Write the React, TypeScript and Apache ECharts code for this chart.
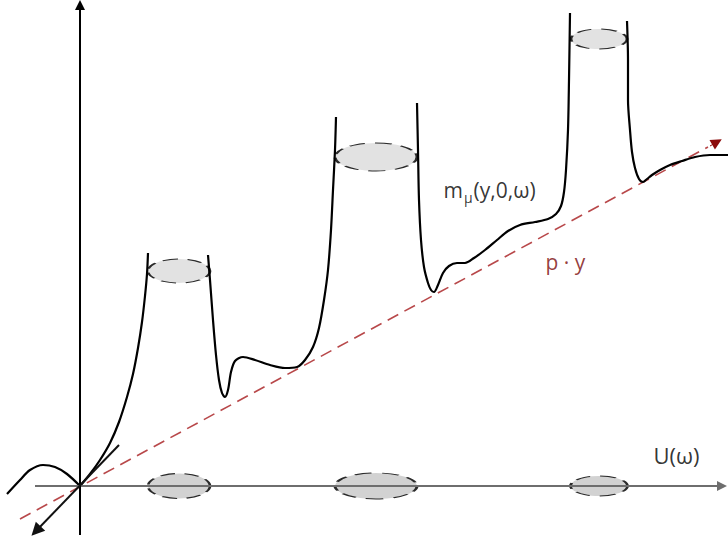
import React, { useEffect, useRef } from "react";
import * as echarts from "echarts";

// ---- data (data units: 1 unit ≈ 1 px, origin at the axes' crossing) ----
const X_MIN = -80;
const X_MAX = 648;
const Y_MIN = -58;
const Y_MAX = 486;

// black curve m_mu(y,0,omega), broken at the top of each wall
const curveHump = [[-73, -8], [-60, 6], [-50, 16], [-37, 21], [-25, 19], [-13, 12], [0, 0]];
const curveRise1 = [[0, 0], [10, 12], [20, 26], [30, 43], [39, 64], [47, 89], [53, 112], [58, 138], [62, 164], [65, 190], [67, 212], [68, 233]];
const curveWell1 = [
  [128, 231], [130, 206], [133, 166], [136, 131], [139, 106], [142, 93], [145, 89], [148, 96], [151, 114],
  [155, 125], [163, 129], [175, 126], [190, 121], [205, 118], [217, 119], [225, 126], [233, 139], [239, 158],
  [244, 186], [248, 216], [251, 256], [253, 296], [255, 336], [256, 369],
];
const curveWell2 = [
  [337, 383], [338, 336], [339, 286], [341, 246], [344, 219], [348, 203], [351, 196], [354, 194], [358, 201],
  [363, 213], [369, 220], [377, 223], [385, 223], [394, 228], [405, 236], [417, 246], [428, 255], [440, 261],
  [455, 264], [468, 267], [476, 272], [481, 280], [484, 294], [486, 316], [488, 356], [489, 406], [490, 473],
];
const curveTail = [
  [547, 465], [548, 426], [548, 386], [550, 356], [552, 334], [555, 318], [559, 307], [563, 304], [567, 307],
  [572, 311], [580, 316], [590, 321], [602, 325], [615, 329], [630, 331], [648, 331],
];

// p·y line (from, to) and its arrow head (from, tip)
const pyLine = [[-60, -33], [628, 339]];
const pyArrow = [[630, 340], [637, 344]];
// axes and tangent arrow (from, to-arrow)
const vAxis = [[0, -49], [0, 481]];
const hAxis = [[-45, 0], [642, 0]];
const tangent = [[39, 41], [-44, -45]];

// wells: centre x, centre y, width, height (data units)
const topWells = [[99, 215, 62, 24], [296, 329, 82, 28], [519, 447, 56, 20]];
const axisWells = [[99, 0, 62, 25], [296, 0, 82, 26], [519, 0, 57, 20]];

// label anchors
const labelM = [363, 296];
const labelPY = [465, 224];
const labelU = [573, 31];

export default function App() {
  const ref = useRef<HTMLDivElement>(null);
  useEffect(() => {
    if (!ref.current) return;
    const chart = echarts.init(ref.current, undefined, { renderer: "svg" });
    const pxPerUnit = 728 / (X_MAX - X_MIN);
    const curveStyle = { color: "#000", width: 2.2 };
    const curve = (d: number[][], smooth = 0.3) => ({
      type: "line",
      data: d,
      showSymbol: false,
      smooth,
      lineStyle: curveStyle,
      z: 4,
      silent: true,
    });
    const wells = (d: number[][], fill: string) => ({
      type: "scatter",
      data: d,
      symbol: "circle",
      symbolSize: (v: number[]) => [v[2] * pxPerUnit, v[3] * pxPerUnit],
      itemStyle: { color: fill, borderColor: "#2a2a2a", borderWidth: 1.7, borderType: [10, 6], opacity: 1 },
      z: 2,
      silent: true,
    });
    const arrowLine = (coords: number[][], color: string, width: number, size: number, z = 5, type: any = "solid") => ({
      type: "lines",
      coordinateSystem: "cartesian2d",
      data: [{ coords }],
      symbol: ["none", "triangle"],
      symbolSize: size,
      lineStyle: { color, width, type, opacity: 1 },
      z,
      silent: true,
    });
    const textPoint = (p: number[], formatter: string, rich: any, z = 6) => ({
      type: "scatter",
      data: [p],
      symbolSize: 1,
      itemStyle: { color: "transparent" },
      label: { show: true, position: "right", distance: 0, formatter, rich },
      z,
      silent: true,
    });
    const font = "'Open Sans', 'DejaVu Sans', sans-serif";
    chart.setOption({
      animation: false,
      backgroundColor: "#fff",
      grid: { left: 0, right: 0, top: 0, bottom: 0 },
      xAxis: { type: "value", min: X_MIN, max: X_MAX, show: false },
      yAxis: { type: "value", min: Y_MIN, max: Y_MAX, show: false },
      series: [
        wells(axisWells, "#d2d2d2"),
        wells(topWells, "#e2e2e2"),
        arrowLine(hAxis, "#6e6e6e", 2, 10),
        arrowLine(vAxis, "#000", 2, 10),
        arrowLine(tangent, "#111", 2, 13),
        {
          type: "lines",
          coordinateSystem: "cartesian2d",
          data: [{ coords: pyLine }],
          symbol: ["none", "none"],
          lineStyle: { color: "#b8484a", width: 1.6, type: [12, 7], opacity: 1 },
          z: 3,
          silent: true,
        },
        arrowLine(pyArrow, "#8b0a0a", 1, 11, 3),
        curve(curveHump),
        curve(curveRise1),
        curve(curveWell1),
        curve(curveWell2),
        curve(curveTail),
        textPoint(labelM, "{m|m}{s|μ}{t|(y,0,ω)}", {
          m: { fontFamily: font, fontSize: 21, color: "#000", lineHeight: 28, verticalAlign: "middle" },
          s: { fontFamily: font, fontSize: 14, color: "#000", lineHeight: 16, verticalAlign: "bottom", padding: [0, 1, 0, 1] },
          t: { fontFamily: font, fontSize: 21, color: "#000", lineHeight: 28, verticalAlign: "middle" },
        }),
        textPoint(labelPY, "{a|p · y}", {
          a: { fontFamily: font, fontSize: 21, color: "#7a0a0a" },
        }),
        textPoint(labelU, "{a|U(ω)}", {
          a: { fontFamily: font, fontSize: 22, color: "#000" },
        }),
      ],
    });
    return () => chart.dispose();
  }, []);
  return (
    <div
      ref={ref}
      style={{ position: "fixed", left: 0, top: 0, width: 728, height: 544, background: "#fff" }}
    />
  );
}
